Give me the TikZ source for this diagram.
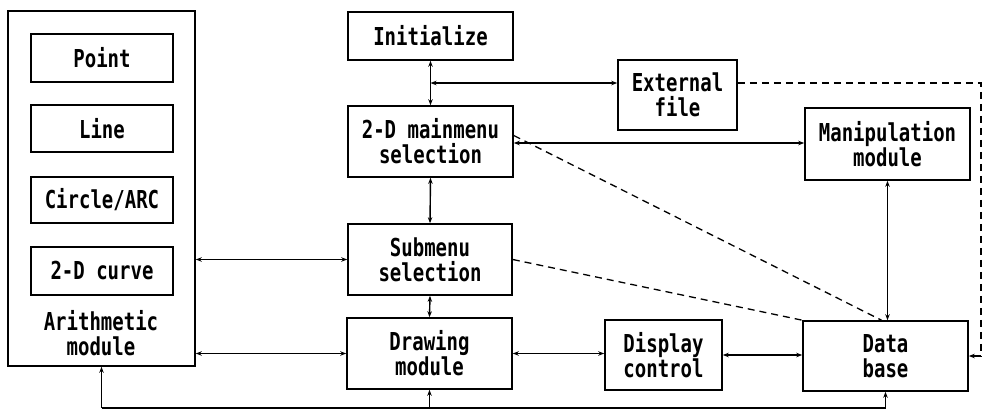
\documentclass[tikz,border=0pt]{standalone}
\usepackage{fontspec}
\setmonofont{DejaVu Sans Mono}
\usetikzlibrary{arrows.meta}
\newcommand\tx[1]{\scalebox{1}[1.3]{#1}}
\tikzset{
  blk/.style={draw, line width=1.6pt, inner sep=0pt, align=center,
    font=\ttfamily\bfseries\fontsize{19}{25}\selectfont},
  conn/.style={line width=1.4pt, {Stealth[length=6pt,width=4.5pt]}-{Stealth[length=6pt,width=4.5pt]}},
  onearr/.style={line width=1.4pt, -{Stealth[length=6pt,width=4.5pt]}},
  dsh/.style={line width=1.3pt, dash pattern=on 7pt off 5pt},
  lbl/.style={inner sep=0pt, align=center, font=\ttfamily\bfseries\fontsize{19}{25}\selectfont}
}
\begin{document}
\begin{tikzpicture}[x=1pt,y=-1pt]
\useasboundingbox (0,0) rectangle (983,410);
% arithmetic module
\node[blk, minimum width=187pt, minimum height=355pt] (arith) at (101.5,188.5) {};
\node[blk, minimum width=142pt, minimum height=48pt] (point) at (102,58) {\tx{Point}};
\node[blk, minimum width=142pt, minimum height=47pt] (line) at (102,128.5) {\tx{Line}};
\node[blk, minimum width=142pt, minimum height=46pt] (circ) at (102,200) {\tx{Circle/ARC}};
\node[blk, minimum width=142pt, minimum height=48pt] (curve) at (102,271) {\tx{2-D curve}};
\node[lbl] (arlbl) at (101,333) {\tx{Arithmetic}\\\tx{module}};
% central column
\node[blk, minimum width=165pt, minimum height=48pt] (init) at (430.5,36) {\tx{Initialize}};
\node[blk, minimum width=165pt, minimum height=71pt] (main) at (430.5,141.5) {\tx{2-D mainmenu}\\\tx{selection}};
\node[blk, minimum width=164pt, minimum height=71pt] (sub) at (430,259.5) {\tx{Submenu}\\\tx{selection}};
\node[blk, minimum width=165pt, minimum height=71pt] (drw) at (429.5,353.5) {\tx{Drawing}\\\tx{module}};
% right side
\node[blk, minimum width=119pt, minimum height=70pt] (ext) at (677.5,95) {\tx{External}\\\tx{file}};
\node[blk, minimum width=165pt, minimum height=72pt] (manip) at (887.5,144) {\tx{Manipulation}\\\tx{module}};
\node[blk, minimum width=117pt, minimum height=70pt] (disp) at (663.5,355) {\tx{Display}\\\tx{control}};
\node[blk, minimum width=165pt, minimum height=70pt] (db) at (885.5,356) {\tx{Data}\\\tx{base}};
% coordinates
\coordinate (j1) at (init.south |- 0,83);
\coordinate (rc1) at (981,83);
\coordinate (rc2) at (981,356);
\coordinate (bot) at (0,408);
% connectors
\draw[conn] (init.south) -- (main.north);
\draw[conn] (j1) -- (ext.west |- j1);
\draw[dsh] (ext.east |- j1) -- (rc1) -- (rc2);
\draw[onearr] (rc2) -- (db.east);
\draw[conn] (main.east |- 0,143) -- (manip.west |- 0,143);
\draw[conn] (main.south) -- (sub.north);
\draw[conn] (sub.south) -- (drw.north);
\draw[conn] (arith.east |- sub.west) -- (sub.west);
\draw[conn] (arith.east |- drw.west) -- (drw.west);
\draw[conn] (drw.east) -- (drw.east -| disp.west);
\draw[conn] (disp.east) -- (disp.east -| db.west);
\draw[conn] (manip.south) -- (manip.south |- db.north);
\draw[dsh] ([yshift=6pt]main.east) -- ([xshift=-4pt]db.north);
\draw[dsh] (sub.east) -- (db.north west);
\draw[onearr] (arith.south |- bot) -- (arith.south);
\draw[line width=1.4pt] (arith.south |- bot) -- (db.south |- bot);
\draw[onearr] (db.south |- bot) -- (db.south);
\draw[onearr] (drw.south |- bot) -- (drw.south);
\end{tikzpicture}
\end{document}
